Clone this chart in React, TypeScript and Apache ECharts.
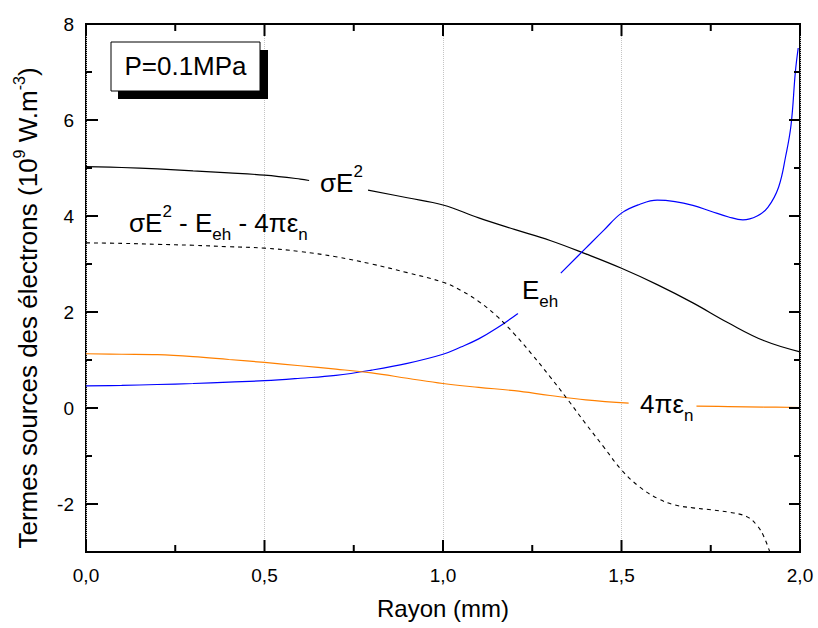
import React, { useEffect, useRef } from "react";
import * as echarts from "echarts";

const FONT = "'Liberation Sans', Arial, Helvetica, sans-serif";

// sigma E^2 (black solid) — null = gap for the label
const sigmaX = [0, 0.1, 0.2, 0.3, 0.4, 0.5, 0.6, 0.625, 0.7, 0.79, 0.9, 1.0, 1.1, 1.2, 1.3, 1.4, 1.5, 1.6, 1.7, 1.8, 1.9, 2.0];
const sigmaY = [5.03, 5.01, 4.98, 4.94, 4.9, 4.85, 4.77, 4.74, null, 4.54, 4.38, 4.23, 3.96, 3.72, 3.49, 3.21, 2.91, 2.57, 2.19, 1.77, 1.4, 1.17];

// E_eh (blue)
const ehX = [0, 0.1, 0.2, 0.3, 0.4, 0.5, 0.6, 0.7, 0.8, 0.9, 1.0, 1.05, 1.1, 1.15, 1.21, 1.27, 1.33, 1.4, 1.45, 1.5, 1.55, 1.6, 1.65, 1.7, 1.75, 1.8, 1.84, 1.88, 1.91, 1.94, 1.96, 1.975, 1.987, 1.995];
const ehY = [0.46, 0.47, 0.49, 0.51, 0.54, 0.57, 0.62, 0.68, 0.79, 0.93, 1.12, 1.27, 1.44, 1.66, 1.97, null, 2.81, 3.33, 3.7, 4.06, 4.24, 4.33, 4.3, 4.22, 4.1, 3.98, 3.92, 4.0, 4.18, 4.6, 5.25, 5.9, 7.0, 7.5];

// 4 pi eps_n (orange)
const nX = [0, 0.1, 0.2, 0.3, 0.4, 0.5, 0.6, 0.7, 0.8, 0.9, 1.0, 1.1, 1.2, 1.3, 1.4, 1.52, 1.6, 1.71, 1.8, 1.9, 2.0];
const nY = [1.13, 1.12, 1.11, 1.07, 1.01, 0.95, 0.88, 0.81, 0.73, 0.62, 0.51, 0.43, 0.36, 0.26, 0.17, 0.1, null, 0.04, 0.03, 0.02, 0.01];

// sigma E^2 - E_eh - 4 pi eps_n (black dashed)
const dX = [0, 0.1, 0.2, 0.3, 0.4, 0.5, 0.6, 0.7, 0.8, 0.9, 1.0, 1.05, 1.1, 1.15, 1.2, 1.25, 1.3, 1.35, 1.4, 1.45, 1.5, 1.55, 1.6, 1.65, 1.7, 1.75, 1.8, 1.85, 1.88, 1.9, 1.92];
const dY = [3.44, 3.43, 3.41, 3.39, 3.36, 3.33, 3.26, 3.15, 3.0, 2.82, 2.62, 2.45, 2.22, 1.92, 1.54, 1.11, 0.65, 0.17, -0.33, -0.81, -1.29, -1.64, -1.88, -2.02, -2.08, -2.12, -2.17, -2.26, -2.45, -2.7, -3.1];

const xMajorTicks = [0, 0.5, 1.0, 1.5, 2.0];
const xMinorTicks = [0.25, 0.75, 1.25, 1.75];
const yMajorTicks = [-2, 0, 2, 4, 6, 8];
const yMinorTicks = [-3, -1, 1, 3, 5, 7];

const X_MIN = 0;
const X_MAX = 2;
const Y_MIN = -3;
const Y_MAX = 8;

const zip = (xs: number[], ys: (number | null)[]) => xs.map((x, i) => [x, ys[i] === null ? "-" : ys[i]]);

const rich = {
  m: { fontSize: 26, lineHeight: 40, fontFamily: FONT, color: "#000", verticalAlign: "middle" },
  sup: { fontSize: 17, lineHeight: 17, fontFamily: FONT, color: "#000", verticalAlign: "top" },
  sub: { fontSize: 17, lineHeight: 17, fontFamily: FONT, color: "#000", verticalAlign: "bottom" },
};

const staticGraphic = [
  { type: "rect", shape: { x: 118, y: 50, width: 150, height: 49 }, style: { fill: "#000" }, z: 10 },
  { type: "rect", shape: { x: 111, y: 42, width: 149, height: 49 }, style: { fill: "#fff", stroke: "#000", lineWidth: 1 }, z: 11 },
  {
    type: "text",
    x: 185.5,
    y: 66,
    z: 12,
    style: { text: "P=0.1MPa", fontSize: 26, fontFamily: FONT, fill: "#000", align: "center", verticalAlign: "middle" },
  },
  { type: "text", x: 320, y: 183, z: 12, style: { text: "{m|σE}{sup|2}", rich, align: "left", verticalAlign: "middle" } },
  {
    type: "text",
    x: 129,
    y: 223,
    z: 12,
    style: { text: "{m|σE}{sup|2}{m| - E}{sub|eh}{m| - 4πε}{sub|n}", rich, align: "left", verticalAlign: "middle" },
  },
  { type: "text", x: 522, y: 290, z: 12, style: { text: "{m|E}{sub|eh}", rich, align: "left", verticalAlign: "middle" } },
  { type: "text", x: 640, y: 404, z: 12, style: { text: "{m|4πε}{sub|n}", rich, align: "left", verticalAlign: "middle" } },
  {
    type: "text",
    x: 28,
    y: 308,
    rotation: Math.PI / 2,
    z: 12,
    style: {
      text: "{t|Termes sources des électrons (10}{s|9}{t| W.m}{s|-3}{t|)}",
      rich: {
        t: { fontSize: 26, lineHeight: 34, fontFamily: FONT, color: "#000", verticalAlign: "middle" },
        s: { fontSize: 16, lineHeight: 16, fontFamily: FONT, color: "#000", verticalAlign: "top" },
      },
      align: "center",
      verticalAlign: "middle",
    },
  },
];

export default function App() {
  const ref = useRef<HTMLDivElement>(null);
  useEffect(() => {
    document.body.style.margin = "0";
    const chart = echarts.init(ref.current!, null, { renderer: "svg" });
    const lineCommon = { type: "line", showSymbol: false, smooth: 0.4, xAxisIndex: 0, yAxisIndex: 0, z: 3 };
    const option: any = {
      animation: false,
      grid: { left: 86, right: 18, top: 24, bottom: 76, show: true, borderColor: "#000", borderWidth: 2, backgroundColor: "transparent" },
      xAxis: [
        {
          type: "value",
          position: "bottom",
          min: X_MIN,
          max: X_MAX,
          interval: 0.5,
          axisLine: { show: false, onZero: false },
          axisTick: { show: false },
          splitLine: { show: true, lineStyle: { type: "dotted", color: "#c4c4c4", width: 1 } },
          axisLabel: {
            show: true,
            margin: 14,
            fontSize: 19,
            fontFamily: FONT,
            color: "#000",
            formatter: (v: number) => v.toFixed(1).replace(".", ","),
          },
          name: "Rayon (mm)",
          nameLocation: "middle",
          nameGap: 44,
          nameTextStyle: { fontSize: 24, fontFamily: FONT, color: "#000" },
        },
      ],
      yAxis: [
        {
          type: "value",
          position: "left",
          min: Y_MIN,
          max: Y_MAX,
          splitLine: { show: false },
          axisLine: { show: false, onZero: false },
          axisTick: { show: false },
          axisLabel: { show: true, margin: 12, fontSize: 19, fontFamily: FONT, color: "#000", customValues: yMajorTicks },
        },
      ],
      series: [
        { ...lineCommon, name: "sigmaE2", data: zip(sigmaX, sigmaY), lineStyle: { color: "#000", width: 1.2 } },
        { ...lineCommon, name: "Eeh", data: zip(ehX, ehY), lineStyle: { color: "#0000ff", width: 1.2 } },
        { ...lineCommon, name: "4pien", data: zip(nX, nY), lineStyle: { color: "#ff8000", width: 1.2 } },
        { ...lineCommon, name: "diff", data: zip(dX, dY), lineStyle: { color: "#000", width: 1.1, type: [4, 4] } },
      ],
      graphic: staticGraphic,
    };
    chart.setOption(option);

    // tick marks placed through the chart's own scales
    const px = (x: number, y: number) => chart.convertToPixel({ gridIndex: 0 }, [x, y]) as number[];
    const ticks: any[] = [];
    const tickLine = (x1: number, y1: number, x2: number, y2: number) => ({
      type: "line",
      z: 20,
      shape: { x1, y1, x2, y2 },
      style: { stroke: "#000", lineWidth: 2 },
    });
    const addX = (vals: number[], len: number) =>
      vals.forEach((v) => {
        const b = px(v, Y_MIN);
        const t = px(v, Y_MAX);
        ticks.push(tickLine(b[0], b[1], b[0], b[1] - len));
        ticks.push(tickLine(t[0], t[1], t[0], t[1] + len));
      });
    const addY = (vals: number[], lenL: number, lenR: number) =>
      vals.forEach((v) => {
        const l = px(X_MIN, v);
        const r = px(X_MAX, v);
        ticks.push(tickLine(l[0], l[1], l[0] + lenL, l[1]));
        ticks.push(tickLine(r[0], r[1], r[0] - lenR, r[1]));
      });
    addX(xMajorTicks, 12);
    addX(xMinorTicks, 7);
    addY(yMajorTicks, 12, 11);
    addY(yMinorTicks, 6, 6);
    chart.setOption({ graphic: [...staticGraphic, ...ticks] });

    return () => chart.dispose();
  }, []);
  return <div ref={ref} style={{ width: 818, height: 628 }} />;
}
